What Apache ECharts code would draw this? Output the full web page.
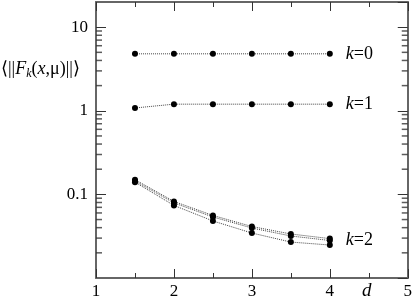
<!DOCTYPE html>
<html>
<head>
<meta charset="utf-8">
<script src="https://cdn.jsdelivr.net/npm/echarts@6/dist/echarts.min.js"></script>
<style>
html,body{margin:0;padding:0;background:#fff;}
#main{width:415px;height:303px;}
</style>
</head>
<body>
<div id="main"></div>
<script>
// d values on the x axis
var dVals = [1.5, 2, 2.5, 3, 3.5, 4];
// <||F_k(x,mu)||> for k = 0, 1, 2 (three curves for k=2)
var k0 = [4.8, 4.8, 4.8, 4.8, 4.8, 4.8];
var k1 = [1.08, 1.2, 1.2, 1.2, 1.2, 1.2];
var k2a = [0.150, 0.0824, 0.056, 0.0413, 0.0336, 0.0296];
var k2b = [0.145, 0.0791, 0.0537, 0.0396, 0.0318, 0.0281];
var k2c = [0.140, 0.0738, 0.0481, 0.0345, 0.0269, 0.0248];
var yLabels = [10, 1, 0.1];
var yMinorTicks = [0.02, 0.03, 0.04, 0.05, 0.06, 0.07, 0.08, 0.09,
                   0.2, 0.3, 0.4, 0.5, 0.6, 0.7, 0.8, 0.9,
                   2, 3, 4, 5, 6, 7, 8, 9];

var myChart = echarts.init(document.getElementById('main'));
var font = 'Liberation Serif';
var axisCol = '#333';

function pts(arr) {
	return arr.map(function (v, i) { return [dVals[i], v]; });
}
function xAx(pos, showLabel) {
	return {
		type: 'value', position: pos, min: 1, max: 5, interval: 1,
		axisLine: { show: true, onZero: false, lineStyle: { color: '#666', width: 2 } },
		axisTick: { show: true, inside: true, length: 9, lineStyle: { color: axisCol } },
		minorTick: { show: true, splitNumber: 2, length: 5, lineStyle: { color: axisCol } },
		splitLine: { show: false },
		axisLabel: { show: showLabel, color: '#000', fontFamily: font, fontSize: 17, margin: 5 }
	};
}
function yAx(pos, showLabel) {
	return {
		type: 'log', logBase: 10, position: pos, min: 0.01, max: 20,
		axisLine: { show: true, onZero: false, lineStyle: { color: '#666', width: 2 } },
		axisTick: { show: true, inside: true, length: 10, lineStyle: { color: axisCol } },
		splitLine: { show: false },
		axisLabel: {
			show: showLabel, color: '#000', fontFamily: font, fontSize: 17, margin: 8,
			showMinLabel: false, showMaxLabel: false,
			formatter: function (v) {
				for (var i = 0; i < yLabels.length; i++) {
					if (Math.abs(v - yLabels[i]) < 1e-9 * yLabels[i]) return String(yLabels[i]);
				}
				return '';
			}
		}
	};
}
function lineSeries(arr, label) {
	var s = {
		type: 'line',
		data: pts(arr),
		symbol: 'circle',
		symbolSize: 6,
		itemStyle: { color: '#000' },
		lineStyle: { color: '#444', width: 1, type: 'dotted' }
	};
	if (label) {
		s.endLabel = {
			show: true, distance: 16,
			formatter: '{i|k}{n|=' + label + '}',
			rich: {
				i: { fontFamily: font, fontStyle: 'italic', fontSize: 18, color: '#000' },
				n: { fontFamily: font, fontSize: 18, color: '#000' }
			}
		};
	}
	return s;
}
// minor ticks of the log axes, as thin rect symbols at the frame edge
function minorTicks(xEnd, dir) {
	return {
		type: 'scatter',
		silent: true,
		z: 10,
		symbol: 'rect',
		symbolSize: [6, 1.5],
		symbolOffset: [3 * dir, 0],
		itemStyle: { color: axisCol },
		data: yMinorTicks.map(function (v) { return [xEnd, v]; })
	};
}

myChart.setOption({
	animation: false,
	grid: { left: 96, right: 6, top: 2, bottom: 25 },
	xAxis: [xAx('bottom', true), xAx('top', false)],
	yAxis: [yAx('left', true), yAx('right', false)],
	graphic: [
		{
			type: 'text', left: 1, top: 60,
			style: {
				text: '{a|⟨||}{i|F}{s|k}{a|(}{i|x}{a|,μ)||⟩}',
				rich: {
					a: { fontFamily: font, fontSize: 18, fill: '#000' },
					i: { fontFamily: font, fontSize: 18, fontStyle: 'italic', fill: '#000' },
					s: { fontFamily: font, fontSize: 12, fontStyle: 'italic', fill: '#000', padding: [10, 0, 0, 0] }
				}
			}
		},
		{
			type: 'text', left: 362, top: 281,
			style: { text: 'd', fontFamily: font, fontSize: 19, fontStyle: 'italic', fill: '#000' }
		}
	],
	series: [
		lineSeries(k0, '0'),
		lineSeries(k1, '1'),
		lineSeries(k2a, null),
		lineSeries(k2b, '2'),
		lineSeries(k2c, null),
		minorTicks(1, 1),
		minorTicks(5, -1)
	]
});
</script>
</body>
</html>
